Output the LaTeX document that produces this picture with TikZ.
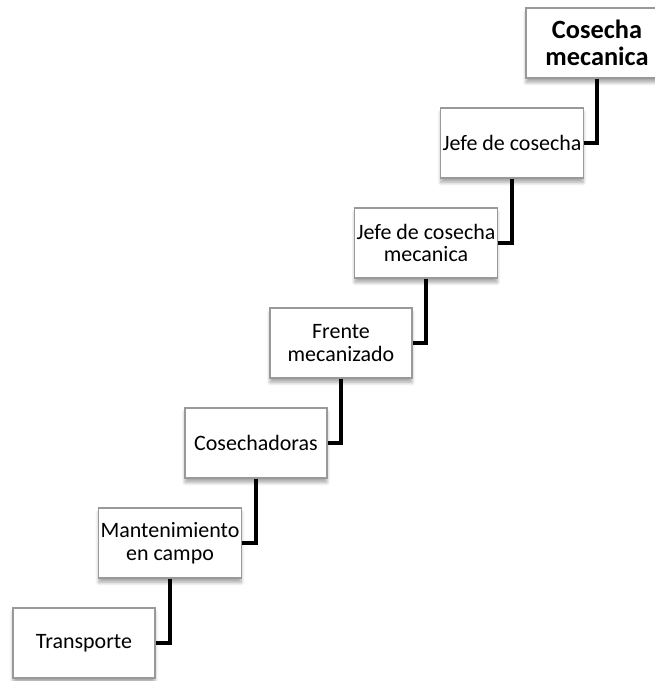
\documentclass[tikz,border=0pt]{standalone}
\usepackage{fontspec}
\setmainfont{Carlito}
\usetikzlibrary{shadows.blur}

\tikzset{
  paso/.style={draw=black!40, line width=0.6pt, fill=white, minimum width=2.84cm, minimum height=1.4cm,
    align=center, font=\fontsize{12.5}{13}\selectfont, inner sep=1pt,
    blur shadow={shadow xshift=0pt, shadow yshift=-2.5pt, shadow blur steps=6, shadow opacity=35}},
  enlace/.style={line width=2.8pt, line join=miter}
}

\begin{document}
\begin{tikzpicture}[x=0.02cm, y=-0.02cm]
    \useasboundingbox (0,0) rectangle (655,681);
    % escalones
    \node [paso, font=\fontsize{15}{15}\selectfont\bfseries] (cosecha) at (597,43) {Cosecha\\mecanica};
    \node [paso] (jefe) at (512,143) {Jefe de cosecha};
    \node [paso] (jefemec) at (426,243) {Jefe de cosecha\\mecanica};
    \node [paso] (frente) at (341,343) {Frente\\mecanizado};
    \node [paso] (cosechadoras) at (256,443) {Cosechadoras};
    \node [paso] (mantenimiento) at (170,543) {Mantenimiento\\en campo};
    \node [paso] (transporte) at (84,643) {Transporte};
    % uniones
    \draw [enlace] (cosecha.south) |- (jefe.east);
    \draw [enlace] (jefe.south) |- (jefemec.east);
    \draw [enlace] (jefemec.south) |- (frente.east);
    \draw [enlace] (frente.south) |- (cosechadoras.east);
    \draw [enlace] (cosechadoras.south) |- (mantenimiento.east);
    \draw [enlace] (mantenimiento.south) |- (transporte.east);
\end{tikzpicture}
\end{document}
